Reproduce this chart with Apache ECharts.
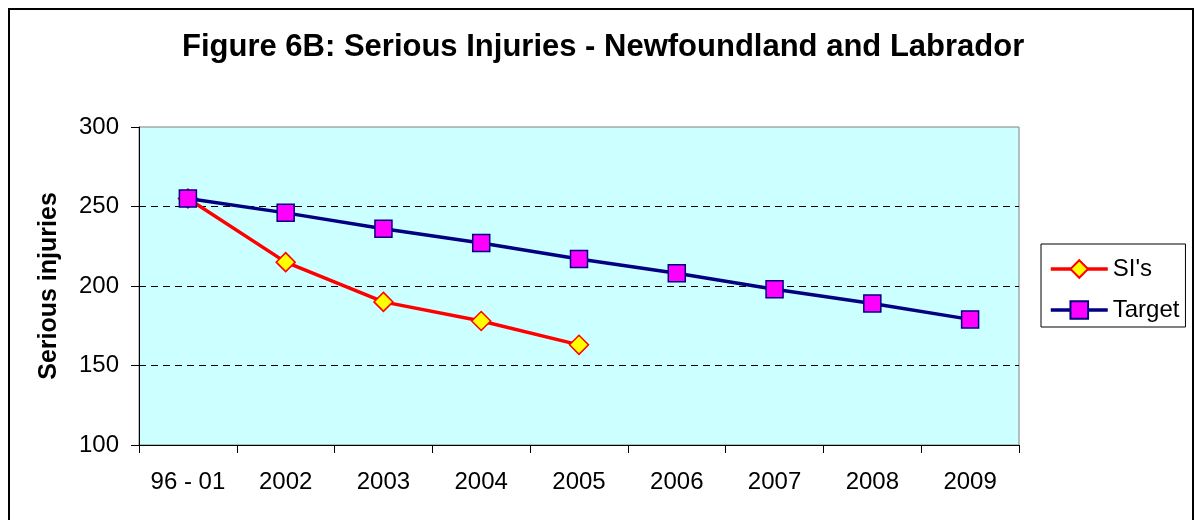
<!DOCTYPE html>
<html><head><meta charset="utf-8">
<script src="https://cdn.jsdelivr.net/npm/echarts@6/dist/echarts.min.js"></script>
<style>html,body{margin:0;padding:0;background:#fff}#c{width:1195px;height:520px}</style>
</head><body><div id="c"></div>
<script>
const categories = ['96 - 01','2002','2003','2004','2005','2006','2007','2008','2009'];
const siValues = [255, 215, 190, 178, 163];
const targetValues = [255, 246, 236, 227, 217, 208, 198, 189, 179];
const yTicks = {min: 100, max: 300, step: 50};
const titleText = 'Figure 6B: Serious Injuries - Newfoundland and Labrador';
const yName = 'Serious injuries';

const FONT = "'Liberation Sans', Arial, sans-serif";
const chart = echarts.init(document.getElementById('c'), null, {renderer: 'canvas'});
chart.setOption({
  animation: false,
  backgroundColor: '#fff',
  textStyle: {fontFamily: FONT},
  title: {
    text: titleText, left: 182, top: 32, padding: 0,
    textStyle: {fontFamily: FONT, fontSize: 31, fontWeight: 'bold', color: '#000'}
  },
  graphic: [{
    type: 'rect', shape: {x: 9, y: 9, width: 1184, height: 600},
    style: {fill: 'none', stroke: '#000', lineWidth: 2}, silent: true, z: 100
  }],
  legend: {
    orient: 'vertical', left: 1041, top: 244,
    padding: [12, 6, 4, 8], itemGap: 15, itemWidth: 57, itemHeight: 22,
    borderColor: '#000', borderWidth: 1, backgroundColor: '#fff',
    lineStyle: {width: 3.5},
    textStyle: {fontFamily: FONT, fontSize: 24, color: '#000', lineHeight: 26},
    data: ["SI's", 'Target']
  },
  grid: {
    left: 139, right: 176, top: 127, bottom: 75,
    show: true, backgroundColor: '#CCFFFF', borderColor: '#808080', borderWidth: 1
  },
  xAxis: {
    type: 'category', data: categories, boundaryGap: true,
    axisLine: {lineStyle: {color: '#000', width: 1}},
    axisTick: {show: true, length: 8, lineStyle: {color: '#000'}},
    axisLabel: {color: '#000', fontSize: 24, fontFamily: FONT, margin: 25}
  },
  yAxis: {
    type: 'value', min: yTicks.min, max: yTicks.max, interval: yTicks.step,
    name: yName, nameLocation: 'middle', nameRotate: 90, nameGap: 77,
    nameTextStyle: {fontFamily: FONT, fontSize: 25, fontWeight: 'bold', color: '#000'},
    axisLine: {show: true, lineStyle: {color: '#000', width: 1}},
    axisTick: {show: true, length: 8, lineStyle: {color: '#000'}},
    axisLabel: {color: '#000', fontSize: 24, fontFamily: FONT, margin: 20},
    splitLine: {show: true, lineStyle: {color: ['transparent', '#000', '#000', '#000', 'transparent'], type: [7, 5], width: 1}}
  },
  series: [
    {
      name: "SI's", type: 'line', data: siValues,
      symbol: 'diamond', symbolSize: 19,
      lineStyle: {color: '#FF0000', width: 3.5},
      itemStyle: {color: '#FFFF00', borderColor: '#FF0000', borderWidth: 1.5},
      z: 2
    },
    {
      name: 'Target', type: 'line', data: targetValues,
      symbol: 'rect', symbolSize: 17,
      lineStyle: {color: '#000080', width: 3.5},
      itemStyle: {color: '#FF00FF', borderColor: '#000080', borderWidth: 1.5},
      z: 3
    }
  ]
});
</script></body></html>
